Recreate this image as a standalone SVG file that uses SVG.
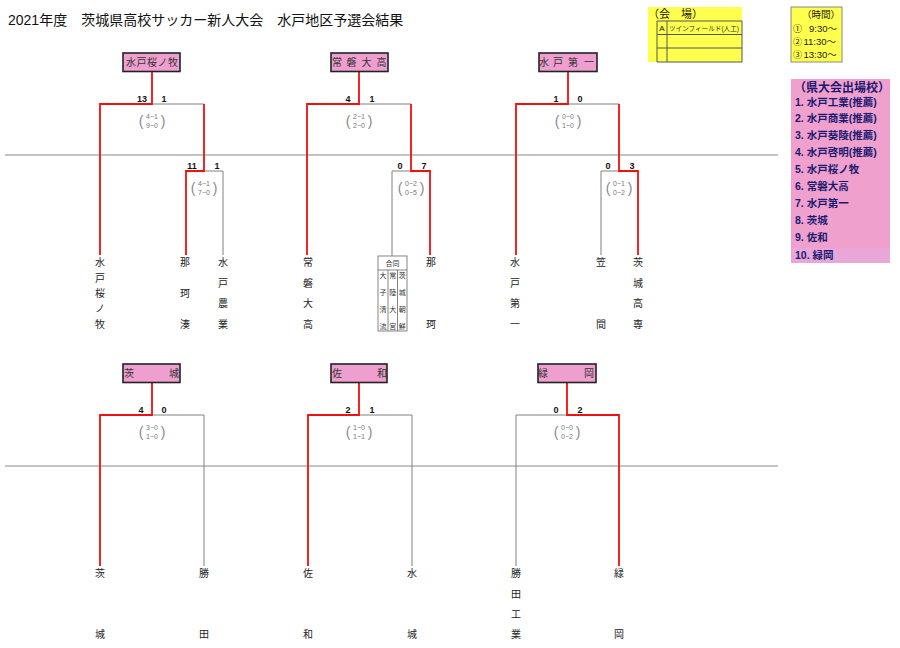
<svg xmlns="http://www.w3.org/2000/svg" width="900" height="648" viewBox="0 0 900 648">
<style>
text{font-family:"Liberation Sans","Noto Sans CJK JP",sans-serif;}
.t{font-size:14px;fill:#111;}
.nb{fill:#EE9ECF;stroke:#222;stroke-width:1.6;}
.nl{font-size:10px;fill:#333;text-anchor:middle;}
.nm{font-size:10px;fill:#222;text-anchor:middle;}
.sc{font-size:9px;font-weight:bold;fill:#111;text-anchor:middle;}
.pk{font-size:7px;fill:#777;text-anchor:middle;}
.pp{font-size:14px;fill:#888;text-anchor:middle;}
.r{stroke:#F01010;stroke-width:1.8;fill:none;}
.g{stroke:#808080;stroke-width:1;fill:none;}
.sep{stroke:#B0B0B0;stroke-width:1.5;}
.li{font-size:10.5px;font-weight:bold;fill:#1A1A70;}
.cb{font-size:7px;fill:#333;text-anchor:middle;}
.tm{font-size:9.5px;fill:#222;}
.cn{font-family:"Noto Sans CJK JP",sans-serif;font-size:9px;fill:#222;}
</style>

<text class="t" x="8" y="25">2021年度　茨城県高校サッカー新人大会　水戸地区予選会結果</text>

<g id="venue">
<rect x="648" y="7" width="94" height="55" fill="#FFFF4D"/>
<text x="648" y="18" font-size="11" fill="#222">（会　場）</text>
<g stroke="#555" stroke-width="1" fill="none">
<path d="M657 21V62M667 21V62M657 21H742V62H657M657 34.5H742M657 48H742"/>
</g>
<text x="662" y="30.5" font-size="8" fill="#111" text-anchor="middle">A</text>
<text x="669" y="30.5" font-size="6.6" fill="#333">ツインフィールド(人工)</text>
</g>

<g id="time">
<rect x="791" y="7" width="51" height="55" fill="#FFFF4D" stroke="#888" stroke-width="1"/>
<text class="tm" x="840" y="18" text-anchor="end">（時間）</text>
<text class="cn" x="793" y="32">①</text><text class="tm" x="809" y="32">9:30～</text>
<text class="cn" x="793" y="45">②</text><text class="tm" x="803.5" y="45">11:30～</text>
<text class="cn" x="793" y="58">③</text><text class="tm" x="803.5" y="58">13:30～</text>
</g>

<g id="qualified">
<rect x="791" y="79" width="99" height="184" fill="#EFA0CD"/>
<rect x="791" y="248" width="99" height="15" fill="#E8A6D9"/>
<text x="794" y="92" font-size="12" font-weight="bold" fill="#1A1A70">（県大会出場校）</text>
<text class="li" x="795" y="106">1. 水戸工業(推薦)</text>
<text class="li" x="795" y="122">2. 水戸商業(推薦)</text>
<text class="li" x="795" y="139">3. 水戸葵陵(推薦)</text>
<text class="li" x="795" y="156">4. 水戸啓明(推薦)</text>
<text class="li" x="795" y="173">5. 水戸桜ノ牧</text>
<text class="li" x="795" y="190">6. 常磐大高</text>
<text class="li" x="795" y="207">7. 水戸第一</text>
<text class="li" x="795" y="224">8. 茨城</text>
<text class="li" x="795" y="241">9. 佐和</text>
<text class="li" x="795" y="259">10. 緑岡</text>
</g>

<g id="separators">
<line class="sep" x1="5" y1="155" x2="778" y2="155"/>
<line class="sep" x1="5" y1="466" x2="778" y2="466"/>
</g>

<g id="connectors">
<path class="g" d="M152 104H204"/>
<path class="g" d="M204 171H223V255"/>
<path class="r" d="M152 71V104H100V255"/>
<path class="r" d="M204 104V171H186V255"/>
<path class="g" d="M359 104H411"/>
<path class="g" d="M411 171H392V256"/>
<path class="r" d="M359 72V104H307V255"/>
<path class="r" d="M411 104V171H430V255"/>
<path class="g" d="M568 104H619"/>
<path class="g" d="M619 171H601V255"/>
<path class="r" d="M568 72V104H516V255"/>
<path class="r" d="M619 104V171H638V255"/>
<path class="g" d="M152 415H204V566"/>
<path class="r" d="M152 382V415H100V566"/>
<path class="g" d="M359 415H412V566"/>
<path class="r" d="M359 382V415H308V566"/>
<path class="g" d="M567 415H516V566"/>
<path class="r" d="M567 382V415H619V566"/>
</g>

<g id="scores">
<text class="sc" x="142" y="102">13</text><text class="sc" x="164" y="102">1</text>
<text class="sc" x="192" y="169">11</text><text class="sc" x="217" y="169">1</text>
<text class="sc" x="348" y="102">4</text><text class="sc" x="372" y="102">1</text>
<text class="sc" x="400" y="169">0</text><text class="sc" x="424" y="169">7</text>
<text class="sc" x="556" y="102">1</text><text class="sc" x="580" y="102">0</text>
<text class="sc" x="608" y="169">0</text><text class="sc" x="632" y="169">3</text>
<text class="sc" x="141" y="413">4</text><text class="sc" x="164" y="413">0</text>
<text class="sc" x="348" y="413">2</text><text class="sc" x="372" y="413">1</text>
<text class="sc" x="556" y="413">0</text><text class="sc" x="580" y="413">2</text>
</g>

<g id="halves">
<g transform="translate(152,0)"><text class="pp" x="-11" y="126">(</text><text class="pp" x="11" y="126">)</text><text class="pk" x="0" y="119">4−1</text><text class="pk" x="0" y="128">9−0</text></g>
<g transform="translate(204,67)"><text class="pp" x="-11" y="126">(</text><text class="pp" x="11" y="126">)</text><text class="pk" x="0" y="119">4−1</text><text class="pk" x="0" y="128">7−0</text></g>
<g transform="translate(359,0)"><text class="pp" x="-11" y="126">(</text><text class="pp" x="11" y="126">)</text><text class="pk" x="0" y="119">2−1</text><text class="pk" x="0" y="128">2−0</text></g>
<g transform="translate(411,67)"><text class="pp" x="-11" y="126">(</text><text class="pp" x="11" y="126">)</text><text class="pk" x="0" y="119">0−2</text><text class="pk" x="0" y="128">0−5</text></g>
<g transform="translate(568,0)"><text class="pp" x="-11" y="126">(</text><text class="pp" x="11" y="126">)</text><text class="pk" x="0" y="119">0−0</text><text class="pk" x="0" y="128">1−0</text></g>
<g transform="translate(619,67)"><text class="pp" x="-11" y="126">(</text><text class="pp" x="11" y="126">)</text><text class="pk" x="0" y="119">0−1</text><text class="pk" x="0" y="128">0−2</text></g>
<g transform="translate(152,311)"><text class="pp" x="-11" y="126">(</text><text class="pp" x="11" y="126">)</text><text class="pk" x="0" y="119">3−0</text><text class="pk" x="0" y="128">1−0</text></g>
<g transform="translate(359,311)"><text class="pp" x="-11" y="126">(</text><text class="pp" x="11" y="126">)</text><text class="pk" x="0" y="119">1−0</text><text class="pk" x="0" y="128">1−1</text></g>
<g transform="translate(567,311)"><text class="pp" x="-11" y="126">(</text><text class="pp" x="11" y="126">)</text><text class="pk" x="0" y="119">0−0</text><text class="pk" x="0" y="128">0−2</text></g>
</g>

<g id="winner-mito-sakuranomaki">
<rect class="nb" x="123" y="53" width="57" height="18.5"/>
<text class="nl" x="131 141.5 152 162.5 173" y="66">水戸桜ノ牧</text>
</g>
<g id="winner-tokiwa">
<rect class="nb" x="331" y="53" width="57" height="18.5"/>
<text class="nl" x="337 351.5 366.5 381.5" y="66">常磐大高</text>
</g>
<g id="winner-mito-daiichi">
<rect class="nb" x="539" y="53" width="58" height="18.5"/>
<text class="nl" x="544 558 573 589" y="66">水戸第一</text>
</g>
<g id="winner-ibaraki">
<rect class="nb" x="123" y="364" width="57" height="18.5"/>
<text class="nl" x="129 174" y="377">茨城</text>
</g>
<g id="winner-sawa">
<rect class="nb" x="331" y="364" width="56" height="18.5"/>
<text class="nl" x="337 382" y="377">佐和</text>
</g>
<g id="winner-midorioka">
<rect class="nb" x="538" y="364" width="58" height="18.5"/>
<text class="nl" x="543 589" y="377">緑岡</text>
</g>

<g id="team-mito-sakuranomaki">
<text class="nm" x="100" y="266">水</text><text class="nm" x="100" y="281.5">戸</text><text class="nm" x="100" y="297">桜</text><text class="nm" x="100" y="312">ノ</text><text class="nm" x="100" y="327.5">牧</text>
</g>
<g id="team-nakaminato">
<text class="nm" x="185" y="266">那</text><text class="nm" x="185" y="297">珂</text><text class="nm" x="185" y="327.5">湊</text>
</g>
<g id="team-mito-nogyo">
<text class="nm" x="223" y="266">水</text><text class="nm" x="223" y="286.5">戸</text><text class="nm" x="223" y="307">農</text><text class="nm" x="223" y="327.5">業</text>
</g>
<g id="team-tokiwa">
<text class="nm" x="308" y="266">常</text><text class="nm" x="308" y="286.5">磐</text><text class="nm" x="308" y="307">大</text><text class="nm" x="308" y="327.5">高</text>
</g>
<g id="team-godo">
<rect x="378" y="256" width="29" height="75" fill="#fff" stroke="#666" stroke-width="0.8"/>
<path d="M378 270H407M388 270V331M397.5 270V331" stroke="#666" stroke-width="0.8" fill="none"/>
<text class="cb" x="392.5" y="265.5" font-size="6">合同</text>
<text class="cb" x="383" y="278">大</text><text class="cb" x="383" y="295">子</text><text class="cb" x="383" y="312">清</text><text class="cb" x="383" y="329">流</text>
<text class="cb" x="392.7" y="278">常</text><text class="cb" x="392.7" y="295">陸</text><text class="cb" x="392.7" y="312">大</text><text class="cb" x="392.7" y="329">宮</text>
<text class="cb" x="402.2" y="278">茨</text><text class="cb" x="402.2" y="295">城</text><text class="cb" x="402.2" y="312">朝</text><text class="cb" x="402.2" y="329">鮮</text>
</g>
<g id="team-naka">
<text class="nm" x="431" y="266">那</text><text class="nm" x="431" y="327.5">珂</text>
</g>
<g id="team-mito-daiichi">
<text class="nm" x="515" y="266">水</text><text class="nm" x="515" y="286.5">戸</text><text class="nm" x="515" y="307">第</text><text class="nm" x="515" y="327.5">一</text>
</g>
<g id="team-kasama">
<text class="nm" x="601" y="266">笠</text><text class="nm" x="601" y="327.5">間</text>
</g>
<g id="team-ibaraki-kosen">
<text class="nm" x="638" y="266">茨</text><text class="nm" x="638" y="286.5">城</text><text class="nm" x="638" y="307">高</text><text class="nm" x="638" y="327.5">専</text>
</g>

<g id="team-ibaraki">
<text class="nm" x="100" y="577">茨</text><text class="nm" x="100" y="638">城</text>
</g>
<g id="team-katsuta">
<text class="nm" x="204" y="577">勝</text><text class="nm" x="204" y="638">田</text>
</g>
<g id="team-sawa">
<text class="nm" x="308" y="577">佐</text><text class="nm" x="308" y="638">和</text>
</g>
<g id="team-mito-jo">
<text class="nm" x="412" y="577">水</text><text class="nm" x="412" y="638">城</text>
</g>
<g id="team-katsuta-kogyo">
<text class="nm" x="516" y="577">勝</text><text class="nm" x="516" y="597.5">田</text><text class="nm" x="516" y="618">工</text><text class="nm" x="516" y="638">業</text>
</g>
<g id="team-midorioka">
<text class="nm" x="619" y="577">緑</text><text class="nm" x="619" y="638">岡</text>
</g>
</svg>
